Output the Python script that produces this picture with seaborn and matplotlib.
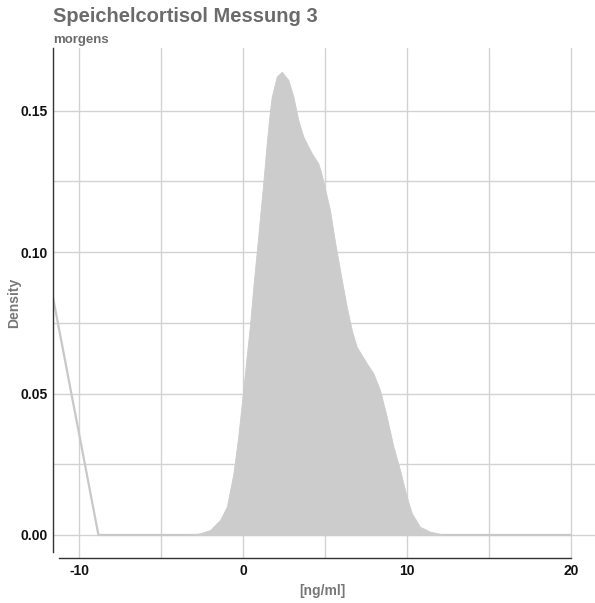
import numpy as np
import pandas as pd
import matplotlib
matplotlib.use("Agg")
import matplotlib.pyplot as plt
import seaborn as sns

# density curve
dens_x = [-3.3, -2.62, -2.0, -1.4, -0.99, -0.59, -0.29, 0.02, 0.43, 0.63, 0.94,
          1.24, 1.44, 1.65, 1.75, 2.05, 2.36, 2.76, 3.07, 3.37, 3.68, 4.19,
          4.59, 4.8, 4.95, 5.3, 5.61, 6.02, 6.32, 6.63, 6.93, 7.54, 7.95, 8.35,
          8.76, 9.17, 9.57, 9.98, 10.29, 10.79, 11.4, 12.3]
dens_y = [0.0, 0.0006, 0.0018, 0.0053, 0.010, 0.0218, 0.035, 0.052, 0.0748,
          0.088, 0.1066, 0.125, 0.1384, 0.1505, 0.1549, 0.162, 0.1637, 0.1608,
          0.1549, 0.1466, 0.1407, 0.1349, 0.1313, 0.1272, 0.1235, 0.1148,
          0.1035, 0.0901, 0.0807, 0.0724, 0.0665, 0.0607, 0.0571, 0.0512,
          0.0418, 0.0312, 0.023, 0.0135, 0.0077, 0.0029, 0.0012, 0.0]

# stray outline segment seen at the left edge
line_x = [-11.7, -8.82, 20.0]
line_y = [0.0873, 0.0, 0.0]

x_ticks = [-10, 0, 10, 20]
x_ticklabels = ["-10", "0", "10", "20"]
y_ticks = [0.0, 0.05, 0.10, 0.15]
y_ticklabels = ["0.00", "0.05", "0.10", "0.15"]

title = "Speichelcortisol Messung 3"
subtitle = "morgens"
xlabel = "[ng/ml]"
ylabel = "Density"

sns.set_theme(style="white")
plt.rcParams["font.family"] = ["Liberation Sans", "DejaVu Sans"]

W, H = 595, 603
fig = plt.figure(figsize=(W / 100, H / 100), dpi=100)
ax = fig.add_axes([53 / W, 1 - 558 / H, (595 - 53) / W, (558 - 48) / H])

df = pd.DataFrame({"x": dens_x, "y": dens_y})
ldf = pd.DataFrame({"x": line_x, "y": line_y})

ax.fill_between(df["x"], df["y"], 0, color="#cccccc", linewidth=0.6,
                edgecolor="#cccccc", zorder=3)
sns.lineplot(data=ldf, x="x", y="y", ax=ax, color="#c8c8c8", linewidth=1.6,
             sort=False, zorder=2)

ax.set_xlim(-11.59, 21.46)
ax.set_ylim(-0.00813, 0.1721)

ax.set_xticks(x_ticks)
ax.set_xticklabels(x_ticklabels)
ax.set_xticks([-5, 5, 15], minor=True)
ax.set_yticks(y_ticks)
ax.set_yticklabels(y_ticklabels)
ax.set_yticks([0.025, 0.075, 0.125], minor=True)

ax.grid(True, which="both", color="#d2d2d2", linewidth=1.0, zorder=0)
ax.set_axisbelow(True)
ax.tick_params(which="both", length=0, pad=4)
for lab in ax.get_xticklabels() + ax.get_yticklabels():
    lab.set_fontweight("bold")
    lab.set_fontsize(10)
    lab.set_color("#111111")

for s in ["top", "right"]:
    ax.spines[s].set_visible(False)
ax.spines["left"].set_color("#333333")
ax.spines["bottom"].set_color("#333333")
ax.spines["left"].set_linewidth(1.0)
ax.spines["bottom"].set_linewidth(1.0)
ax.spines["left"].set_bounds(-0.006, 0.1721)
ax.spines["bottom"].set_bounds(-11.22, 20)

ax.set_xlabel(xlabel, fontsize=10, fontweight="bold", color="#777777")
ax.set_ylabel(ylabel, fontsize=10, fontweight="bold", color="#777777")
ax.xaxis.set_label_coords((322 - 53) / 542, -(591 - 558) / 510)
ax.yaxis.set_label_coords(-(53 - 14) / 542, 0.5)
ax.xaxis.label.set_va("center")
ax.yaxis.label.set_va("center")

fig.text(53 / W, 1 - 22 / H, title, fontsize=14.5, fontweight="bold",
         color="#6b6b6b", ha="left", va="baseline")
fig.text(53 / W, 1 - 43 / H, subtitle, fontsize=9.5, fontweight="bold",
         color="#6b6b6b", ha="left", va="baseline")

fig.savefig("out.png", dpi=100)
